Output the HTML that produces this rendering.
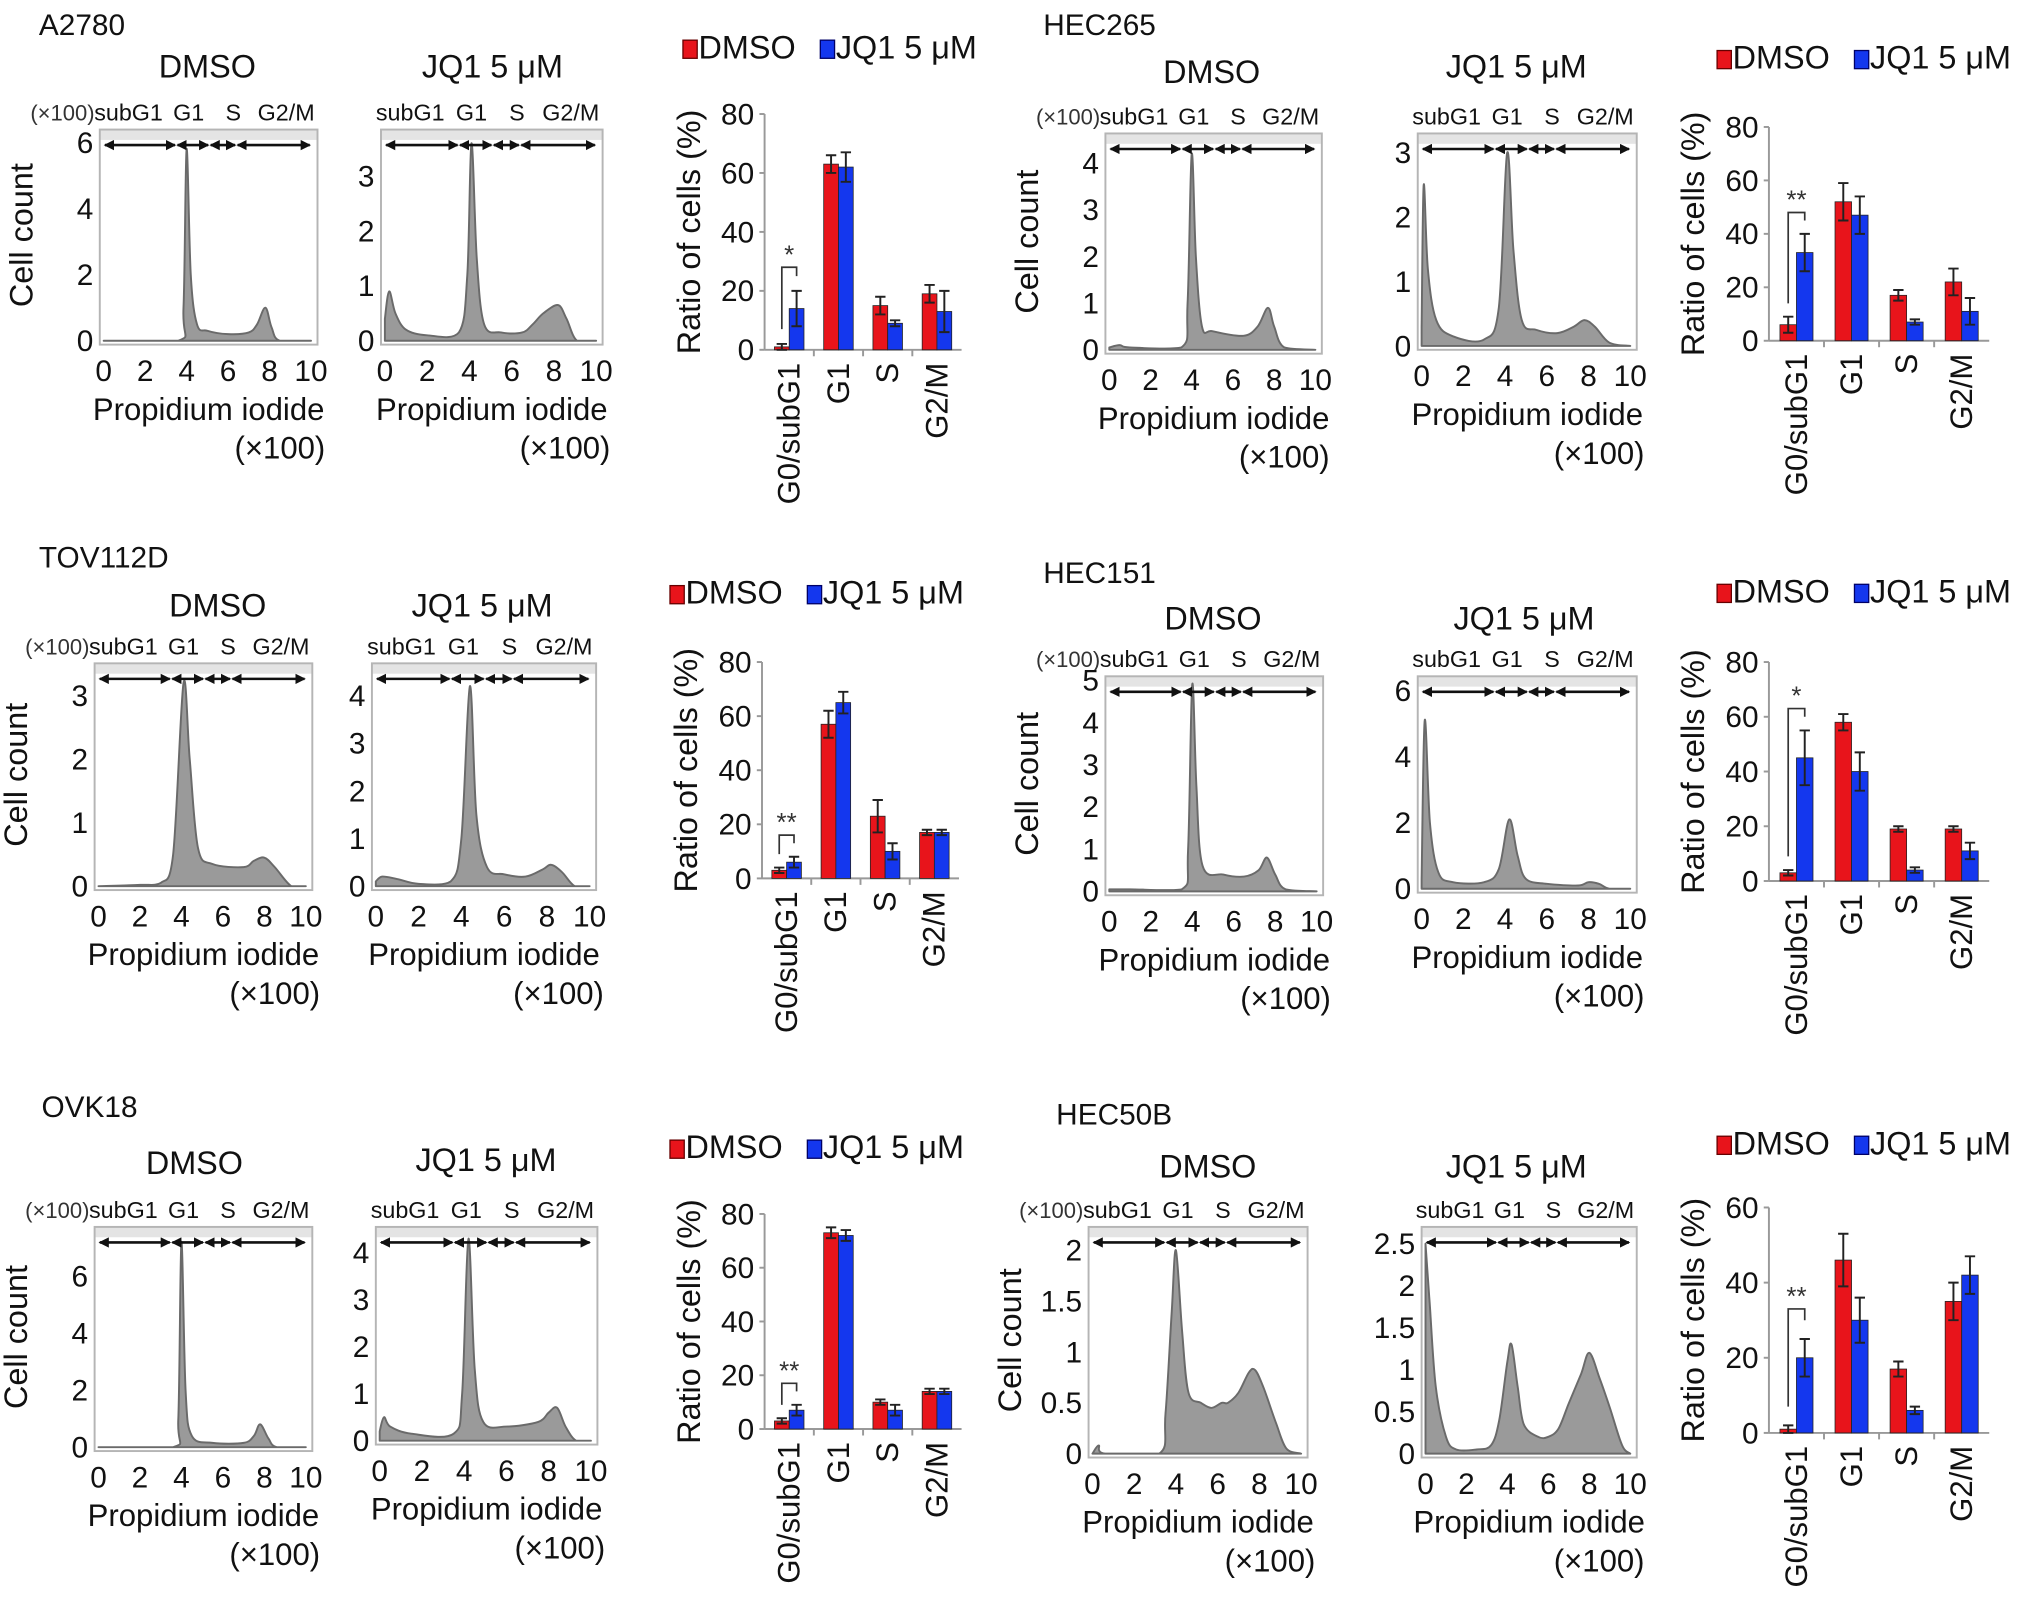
<!DOCTYPE html>
<html><head><meta charset="utf-8"><style>
html,body{margin:0;padding:0;background:#fff;}
svg{display:block;font-family:"Liberation Sans",Arial,sans-serif;}
</style></head><body>
<svg id="fig" width="2032" height="1613" viewBox="0 0 1568 1245" preserveAspectRatio="none" xmlns="http://www.w3.org/2000/svg">
<defs>
<marker id="ah" markerWidth="8" markerHeight="8" refX="7" refY="4" orient="auto-start-reverse" markerUnits="userSpaceOnUse"><path d="M0,0 L8,4 L0,8 z" fill="#111"/></marker>
</defs>
</svg>
<script>
// ---- data ----
const panelNames = ["A2780","HEC265","TOV112D","HEC151","OVK18","HEC50B"];
const categories = ["G0/subG1","G1","S","G2/M"];
const dmsoA2780 = [1,63,15,19], jq1A2780 = [14,62,9,13], errDA2780 = [1,3,3,3], errJA2780 = [6,5,1,7];
const dmsoHEC265 = [6,52,17,22], jq1HEC265 = [33,47,7,11], errDHEC265 = [3,7,2,5], errJHEC265 = [7,7,1,5];
const dmsoTOV = [3,57,23,17], jq1TOV = [6,65,10,17], errDTOV = [1,5,6,1], errJTOV = [2,4,3,1];
const dmsoHEC151 = [3,58,19,19], jq1HEC151 = [45,40,4,11], errDHEC151 = [1,3,1,1], errJHEC151 = [10,7,1,3];
const dmsoOVK = [3,73,10,14], jq1OVK = [7,72,7,14], errDOVK = [1,2,1,1], errJOVK = [2,2,2,1];
const dmsoHEC50B = [1,46,17,35], jq1HEC50B = [20,30,6,42], errDHEC50B = [1,7,2,5], errJHEC50B = [5,6,1,5];
const sigMarks = ["*","**","**","*","**","**"];
const barTicks80 = [0,20,40,60,80], barTicks60 = [0,20,40,60];
const xTicks = [0,2,4,6,8,10];
const phaseLabels = ["subG1","G1","S","G2/M"];
const phasePos = [1.2,4.1,6.25,8.8];
const phaseBounds = [0,3.5,5.1,6.4,10];

const histA2780D = [[0,0],[3.6,0],[3.85,1],[4.0,5.8],[4.2,2],[4.5,0.5],[5,0.3],[6,0.2],[7,0.25],[7.4,0.5],[7.8,1],[8.1,0.4],[8.5,0],[10,0]];
const histA2780J = [[0,0.4],[0.2,0.9],[0.5,0.5],[1,0.2],[2,0.1],[3.5,0.15],[3.9,1.2],[4.1,3.6],[4.35,1.5],[4.7,0.3],[5.5,0.15],[6.5,0.15],[7,0.3],[7.5,0.5],[8.2,0.65],[8.6,0.4],[9.1,0],[10,0]];
const histHEC265D = [[0,0.05],[0.5,0.1],[1,0.05],[3.5,0.05],[3.8,1],[4.0,4.2],[4.2,2],[4.5,0.5],[5,0.4],[6.5,0.3],[7.2,0.5],[7.7,0.9],[8,0.5],[8.5,0.05],[10,0]];
const histHEC265J = [[0,0.3],[0.1,2.5],[0.3,1.2],[0.7,0.4],[1.5,0.15],[3,0.1],[3.7,0.6],[4.1,3],[4.4,1.5],[4.8,0.4],[5.5,0.25],[6.5,0.2],[7.3,0.3],[7.8,0.4],[8.3,0.3],[9,0.05],[10,0]];
const histTOVD = [[0,0],[2,0.02],[3,0.05],[3.6,0.5],[4.1,3.2],[4.4,2],[4.8,0.6],[5.5,0.35],[7,0.3],[7.5,0.4],[8,0.45],[8.5,0.3],[9.3,0],[10,0]];
const histTOVJ = [[0,0.1],[0.3,0.2],[1,0.15],[2,0.05],[3.5,0.1],[4,1],[4.4,4.2],[4.7,1.5],[5.2,0.4],[6,0.25],[7,0.2],[7.8,0.35],[8.2,0.45],[8.7,0.3],[9.3,0],[10,0]];
const histHEC151D = [[0,0.05],[1,0.05],[3.5,0.05],[3.8,1],[4.0,4.9],[4.2,2.5],[4.5,0.6],[5.5,0.4],[6.5,0.35],[7.2,0.5],[7.6,0.8],[8,0.4],[8.5,0.05],[10,0]];
const histHEC151J = [[0,0.3],[0.15,5.1],[0.4,2],[0.8,0.5],[1.5,0.2],[3,0.2],[3.7,0.6],[4.2,2.1],[4.6,1],[5,0.3],[6,0.15],[7.5,0.1],[8,0.2],[8.5,0.15],[9,0],[10,0]];
const histOVKD = [[0,0],[3.6,0],[3.85,1],[4.0,7.2],[4.2,2],[4.5,0.4],[5.5,0.15],[7,0.15],[7.5,0.4],[7.8,0.8],[8.2,0.3],[8.6,0],[10,0]];
const histOVKJ = [[0,0.2],[0.2,0.5],[0.5,0.3],[1.5,0.15],[3.5,0.15],[3.9,1],[4.2,4.3],[4.5,1.5],[4.9,0.4],[6,0.3],[7.5,0.4],[8,0.6],[8.4,0.7],[8.8,0.3],[9.3,0],[10,0]];
const histHEC50BD = [[0,0],[0.3,0.08],[0.6,0],[3.2,0],[3.5,0.4],[3.8,1.4],[4.0,2.0],[4.3,1.2],[4.6,0.6],[5.2,0.5],[5.7,0.45],[6.2,0.5],[6.5,0.5],[7,0.6],[7.5,0.8],[7.8,0.82],[8.2,0.65],[8.8,0.3],[9.3,0.05],[10,0]];
const histHEC50BJ = [[0,2.5],[0.2,1.8],[0.5,0.8],[1,0.2],[1.5,0.05],[2.5,0.05],[3.2,0.1],[3.6,0.4],[4.0,1.1],[4.2,1.3],[4.5,0.8],[4.8,0.35],[5.5,0.2],[6,0.2],[6.5,0.3],[7,0.6],[7.6,0.95],[8,1.2],[8.5,0.9],[9,0.55],[9.6,0.1],[10,0]];
const hTicksA2780 = [[0,2,4,6],[0,1,2,3]];
const hTicksHEC265 = [[0,1,2,3,4],[0,1,2,3]];
const hTicksTOV = [[0,1,2,3],[0,1,2,3,4]];
const hTicksHEC151 = [[0,1,2,3,4,5],[0,2,4,6]];
const hTicksOVK = [[0,2,4,6],[0,1,2,3,4]];
const hTicksHEC50B = [[0,0.5,1,1.5,2],[0,0.5,1,1.5,2,2.5]];

// ---- layout ----
const panels = [
 {name:panelNames[0], title:[30,27], col:0, d:dmsoA2780,j:jq1A2780,ed:errDA2780,ej:errJA2780, hd:histA2780D,hj:histA2780J, ht:hTicksA2780,
  h:[{px0:80,px10:240,py0:263,tmax:6,pyMax:110,top:100,tx:160,ty:60},{px0:297,px10:460,py0:263,tmax:3,pyMax:136,top:100,tx:380,ty:60}],
  b:{ax:590,y0:270,yTop:88,max:80,W:152,lx:527,ly:45}},
 {name:panelNames[1], title:[805,27], col:1, d:dmsoHEC265,j:jq1HEC265,ed:errDHEC265,ej:errJHEC265, hd:histHEC265D,hj:histHEC265J, ht:hTicksHEC265,
  h:[{px0:856,px10:1015,py0:270,tmax:4,pyMax:126,top:103,tx:935,ty:64},{px0:1097,px10:1258,py0:267,tmax:3,pyMax:118,top:103,tx:1170,ty:60}],
  b:{ax:1365,y0:263,yTop:98,max:80,W:170,lx:1325,ly:53}},
 {name:panelNames[2], title:[30,438], col:0, d:dmsoTOV,j:jq1TOV,ed:errDTOV,ej:errJTOV, hd:histTOVD,hj:histTOVJ, ht:hTicksTOV,
  h:[{px0:76,px10:236,py0:684,tmax:3,pyMax:537,top:512,tx:168,ty:476},{px0:290,px10:455,py0:684,tmax:4,pyMax:537,top:512,tx:372,ty:476}],
  b:{ax:588,y0:678,yTop:511,max:80,W:152,lx:517,ly:466}},
 {name:panelNames[3], title:[805,450], col:1, d:dmsoHEC151,j:jq1HEC151,ed:errDHEC151,ej:errJHEC151, hd:histHEC151D,hj:histHEC151J, ht:hTicksHEC151,
  h:[{px0:856,px10:1016,py0:688,tmax:5,pyMax:525,top:522,tx:936,ty:486},{px0:1097,px10:1258,py0:686,tmax:6,pyMax:533,top:522,tx:1176,ty:486}],
  b:{ax:1365,y0:680,yTop:511,max:80,W:170,lx:1325,ly:465}},
 {name:panelNames[4], title:[32,862], col:0, d:dmsoOVK,j:jq1OVK,ed:errDOVK,ej:errJOVK, hd:histOVKD,hj:histOVKJ, ht:hTicksOVK,
  h:[{px0:76,px10:236,py0:1117,tmax:6,pyMax:985,top:947,tx:150,ty:906},{px0:293,px10:456,py0:1112,tmax:4,pyMax:967,top:947,tx:375,ty:904}],
  b:{ax:590,y0:1103,yTop:937,max:80,W:152,lx:517,ly:894}},
 {name:panelNames[5], title:[815,868], col:1, d:dmsoHEC50B,j:jq1HEC50B,ed:errDHEC50B,ej:errJHEC50B, hd:histHEC50BD,hj:histHEC50BJ, ht:hTicksHEC50B,
  h:[{px0:843,px10:1004,py0:1122,tmax:2,pyMax:965,top:947,tx:932,ty:909},{px0:1100,px10:1258,py0:1122,tmax:2.5,pyMax:960,top:947,tx:1170,ty:909}],
  b:{ax:1365,y0:1106,yTop:932,max:60,W:170,lx:1325,ly:891}}
];

const svg = document.getElementById('fig');
const NS = 'http://www.w3.org/2000/svg';
function el(tag, attrs, parent, text){
  const e = document.createElementNS(NS, tag);
  for (const k in attrs) e.setAttribute(k, attrs[k]);
  if (text !== undefined) e.textContent = text;
  (parent||svg).appendChild(e);
  return e;
}

panels.forEach((p, pi) => {
  const g = el('g', {});
  
  
  const t = el('text', {x:p.title[0], y:p.title[1], 'font-size':23, fill:'#111'}, g, p.name);
  
  

  p.h.forEach((h, hi) => {
    const pts = hi === 0 ? p.hd : p.hj;
    const ticks = p.ht[hi];
    const sx = v => h.px0 + v/10*(h.px10 - h.px0);
    const sy = v => h.py0 - v/h.tmax*(h.py0 - h.pyMax);
    const hg = el('g', {}, g);
    
    
    const ct = el('text', {x:h.tx, y:h.ty, 'font-size':25, 'text-anchor':'middle', fill:'#111'}, hg, hi===0 ? 'DMSO' : 'JQ1 5 \u03bcM');
    
    
    const bx0 = h.px0 - 3, bx1 = h.px10 + 5, bb = h.py0 + 3;
    el('rect', {x:bx0, y:h.top, width:bx1-bx0, height:8, fill:'#e4e4e4'}, hg);
    const box = el('rect', {x:bx0, y:h.top, width:bx1-bx0, height:bb-h.top, fill:'none', stroke:'#b5b5b5', 'stroke-width':1.5}, hg);
    
    
    // smoothed histogram area (Catmull-Rom)
    const P = pts.map(q => [sx(q[0]), sy(q[1])]);
    let d = 'M' + P[0][0].toFixed(1) + ',' + sy(0).toFixed(1) + ' L' + P[0][0].toFixed(1) + ',' + P[0][1].toFixed(1);
    for (let i = 0; i < P.length-1; i++) {
      const p0 = P[Math.max(0,i-1)], p1 = P[i], p2 = P[i+1], p3 = P[Math.min(P.length-1,i+2)];
      const t = 0.25;
      let c1 = [p1[0]+(p2[0]-p0[0])*t/1.5, p1[1]+(p2[1]-p0[1])*t/1.5];
      let c2 = [p2[0]-(p3[0]-p1[0])*t/1.5, p2[1]-(p3[1]-p1[1])*t/1.5];
      c1[1] = Math.min(c1[1], sy(0)); c2[1] = Math.min(c2[1], sy(0));
      d += ' C' + c1[0].toFixed(1)+','+c1[1].toFixed(1)+' '+c2[0].toFixed(1)+','+c2[1].toFixed(1)+' '+p2[0].toFixed(1)+','+p2[1].toFixed(1);
    }
    d += ' L' + P[P.length-1][0].toFixed(1) + ',' + sy(0).toFixed(1) + ' Z';
    const area = el('path', {d:d, fill:'#9a9a9a', stroke:'#6a6a6a', 'stroke-width':1.5, 'stroke-linejoin':'round'}, hg);
    
    
    const ay = h.top + 12;
    for (let k = 0; k < 4; k++) {
      const a = el('line', {x1:sx(phaseBounds[k])+1, y1:ay, x2:sx(phaseBounds[k+1])-1, y2:ay, stroke:'#111', 'stroke-width':2, 'marker-start':'url(#ah)', 'marker-end':'url(#ah)'}, hg);
      
      
      const pl = el('text', {x:sx(phasePos[k]), y:h.top-7, 'font-size':18, 'text-anchor':'middle', fill:'#111'}, hg, phaseLabels[k]);
      
      
    }
    if (hi === 0) {
      const u = el('text', {x:bx0-4, y:h.top-7, 'font-size':17, 'text-anchor':'end', fill:'#333'}, hg, '(\u00d7100)');
      
      
      const yc = (h.top + h.py0)/2;
      const xl = bx0 - 52;
      const yl = el('text', {x:xl, y:yc, 'font-size':25, 'text-anchor':'middle', transform:'rotate(-90 '+xl+' '+yc+')', fill:'#111'}, hg, 'Cell count');
      
      
    }
    ticks.forEach(v => {
      const tt = el('text', {x:bx0-5, y:sy(v)+8, 'font-size':23, 'text-anchor':'end', fill:'#111'}, hg, String(v));
      
      
    });
    xTicks.forEach(v => {
      const tt = el('text', {x:sx(v), y:h.py0+31, 'font-size':23, 'text-anchor':'middle', fill:'#111'}, hg, String(v));
      
      
    });
    const xt = el('text', {x:(bx0+bx1)/2, y:h.py0+61, 'font-size':24, 'text-anchor':'middle', fill:'#111'}, hg, 'Propidium iodide');
    
    
    const xu = el('text', {x:bx1+6, y:h.py0+91, 'font-size':24, 'text-anchor':'end', fill:'#111'}, hg, '(\u00d7100)');
    
    
  });

  const b = p.b;
  const bg = el('g', {}, g);
  
  
  const yS = v => b.y0 - v/b.max*(b.y0 - b.yTop);
  const gw = b.W/4, bw = gw*0.3;
  const lr = el('rect', {x:b.lx, y:b.ly-14, width:11, height:14, fill:'#e8141b', stroke:'#600', 'stroke-width':1}, bg);
  
  
  const lt1 = el('text', {x:b.lx+12, y:b.ly, 'font-size':25, fill:'#111'}, bg, 'DMSO');
  
  
  const lb = el('rect', {x:b.lx+106, y:b.ly-14, width:11, height:14, fill:'#1437ee', stroke:'#006', 'stroke-width':1}, bg);
  
  
  const lt2 = el('text', {x:b.lx+118, y:b.ly, 'font-size':25, fill:'#111'}, bg, 'JQ1 5 \u03bcM');
  
  
  el('line', {x1:b.ax, y1:b.yTop, x2:b.ax, y2:b.y0, stroke:'#999', 'stroke-width':1.5}, bg);
  el('line', {x1:b.ax, y1:b.y0, x2:b.ax+b.W, y2:b.y0, stroke:'#999', 'stroke-width':1.5}, bg);
  const ticks = b.max === 60 ? barTicks60 : barTicks80;
  ticks.forEach(v => {
    el('line', {x1:b.ax-4, y1:yS(v), x2:b.ax, y2:yS(v), stroke:'#999', 'stroke-width':1.5}, bg);
    const tt = el('text', {x:b.ax-8, y:yS(v)+8, 'font-size':23, 'text-anchor':'end', fill:'#111'}, bg, String(v));
    
    
  });
  for (let k = 1; k < 4; k++) el('line', {x1:b.ax+k*gw, y1:b.y0, x2:b.ax+k*gw, y2:b.y0+5, stroke:'#999', 'stroke-width':1.5}, bg);
  const yc = (b.yTop + b.y0)/2, xl = b.ax - 50;
  const yt = el('text', {x:xl, y:yc, 'font-size':25, 'text-anchor':'middle', transform:'rotate(-90 '+xl+' '+yc+')', fill:'#111'}, bg, 'Ratio of cells (%)');
  
  
  categories.forEach((c, k) => {
    const cx = b.ax + (k+0.5)*gw;
    [[p.d[k], p.ed[k], '#e8141b', cx-bw, 'bar-dmso'], [p.j[k], p.ej[k], '#1437ee', cx, 'bar-jq1']].forEach(s => {
      const r = el('rect', {x:s[3], y:yS(s[0]), width:bw, height:b.y0-yS(s[0]), fill:s[2], stroke:'#222', 'stroke-width':0.6}, bg);
      
      
      const ex = s[3] + bw/2;
      const e = el('path', {d:'M'+ex+','+yS(s[0]-s[1])+' L'+ex+','+yS(s[0]+s[1])+' M'+(ex-4)+','+yS(s[0]+s[1])+' L'+(ex+4)+','+yS(s[0]+s[1])+' M'+(ex-4)+','+yS(s[0]-s[1])+' L'+(ex+4)+','+yS(s[0]-s[1]), stroke:'#222', 'stroke-width':1.5, fill:'none'}, bg);
      
      
    });
    const ly = b.y0 + 10;
    const ct = el('text', {x:cx+8, y:ly, 'font-size':24, 'text-anchor':'end', transform:'rotate(-90 '+(cx+8)+' '+ly+')', fill:'#111'}, bg, c);
    
    
  });
  const cx0 = b.ax + 0.5*gw;
  const topV = p.j[0] + p.ej[0] + 8;
  const lx0 = cx0 - bw/2, lx1 = cx0 + bw/2;
  const br = el('path', {d:'M'+lx0+','+yS(p.d[0]+p.ed[0]+5)+' L'+lx0+','+yS(topV)+' L'+lx1+','+yS(topV)+' L'+lx1+','+yS(topV-3), stroke:'#333', 'stroke-width':1.3, fill:'none'}, bg);
  
  
  const st = el('text', {x:cx0, y:yS(topV)-3, 'font-size':20, 'text-anchor':'middle', fill:'#333'}, bg, sigMarks[pi]);
  
  
});
</script>
</body></html>
